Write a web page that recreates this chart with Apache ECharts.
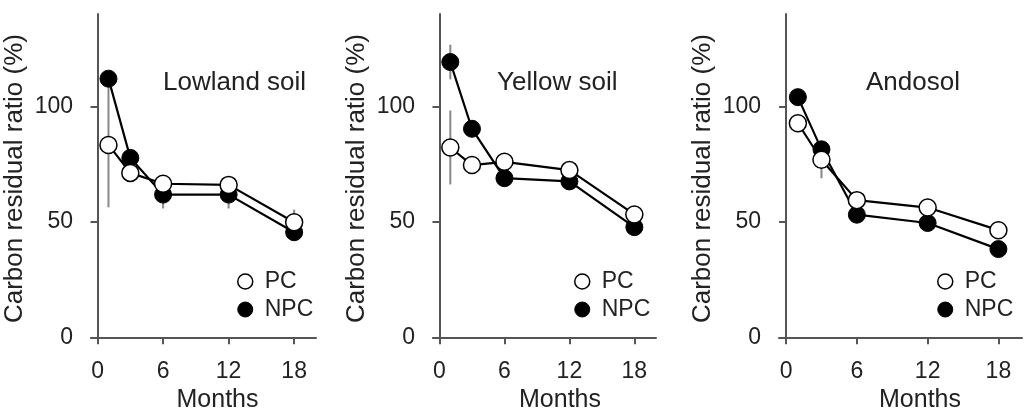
<!DOCTYPE html>
<html lang="en">
<head>
    <meta charset="UTF-8">
    <title>Carbon residual ratio</title>
    <style>
        html, body { margin: 0; padding: 0; background: #fff; }
        #main { width: 1032px; height: 418px; }
    </style>
</head>
<body>
<div id="main"></div>
<script src="https://cdn.jsdelivr.net/npm/echarts@6.0.0/dist/echarts.min.js"></script>
<script type="text/javascript">
    // data
    var months = [1, 3, 6, 12, 18];
    var soilNames = ['Lowland soil', 'Yellow soil', 'Andosol'];
    var xTicks = [0, 6, 12, 18];
    var yTicks = [0, 50, 100];

    var lowlandPC = [83.3, 71.2, 66.5, 66.0, 49.8];
    var lowlandNPC = [112.0, 77.7, 61.8, 61.8, 45.5];
    var yellowPC = [82.2, 74.6, 76.0, 72.4, 53.2];
    var yellowNPC = [119.2, 90.3, 68.9, 67.5, 47.7];
    var andosolPC = [92.7, 76.9, 59.4, 56.2, 46.4];
    var andosolNPC = [104.0, 81.4, 53.1, 49.5, 38.2];

    // error bar half widths (0 = not visible)
    var lowlandPCErr = [27, 0, 0, 0, 5.5];
    var lowlandNPCErr = [0, 0, 6, 6, 0];
    var yellowPCErr = [16, 0, 0, 0, 0];
    var yellowNPCErr = [7.5, 0, 0, 0, 3.5];
    var andosolPCErr = [0, 8, 0, 0, 0];
    var andosolNPCErr = [0, 0, 0, 0, 0];

    var pcData = [lowlandPC, yellowPC, andosolPC];
    var npcData = [lowlandNPC, yellowNPC, andosolNPC];
    var pcErr = [lowlandPCErr, yellowPCErr, andosolPCErr];
    var npcErr = [lowlandNPCErr, yellowNPCErr, andosolNPCErr];

    var font = "'Liberation Sans', Arial, sans-serif";
    var textColor = '#222';
    var axisColor = '#555';

    // panel layout
    var grids = [
        {left: 91, top: 14, width: 225, height: 332},
        {left: 433, top: 14, width: 223, height: 334},
        {left: 779, top: 14, width: 243, height: 335}
    ];
    var titlePos = [[163, 70], [497, 70], [866, 70]];
    var legendLeft = [232, 569, 932];
    var monthsPad = [28, 31, 39];

    var myChart = echarts.init(document.getElementById('main'));

    function pairs(vals) {
        var out = [];
        for (var i = 0; i < months.length; i++) out.push([months[i], vals[i]]);
        return out;
    }

    function errData(vals, errs) {
        var out = [];
        for (var i = 0; i < months.length; i++) {
            if (errs[i] > 0) out.push([months[i], vals[i] - errs[i], vals[i] + errs[i]]);
        }
        return out;
    }

    function renderErr(params, api) {
        var p1 = api.coord([api.value(0), api.value(1)]);
        var p2 = api.coord([api.value(0), api.value(2)]);
        return {
            type: 'line',
            shape: {x1: p1[0], y1: p1[1], x2: p2[0], y2: p2[1]},
            style: {stroke: '#888', lineWidth: 2}
        };
    }

    var title = [], xAxis = [], yAxis = [], legend = [], series = [];
    for (var k = 0; k < 3; k++) {
        title.push({
            text: soilNames[k], left: titlePos[k][0], top: titlePos[k][1], padding: 0,
            textStyle: {fontFamily: font, fontSize: 26, fontWeight: 'normal', color: textColor}
        });
        xAxis.push({
            type: 'value', gridIndex: k, min: -0.6, max: 20,
            name: 'Months', nameLocation: 'middle', nameGap: 42,
            nameTextStyle: {fontFamily: font, fontSize: 25, color: textColor, padding: [0, 0, 0, monthsPad[k]]},
            splitLine: {show: false},
            axisLine: {onZero: true, lineStyle: {color: axisColor, width: 2}},
            axisTick: {show: true, length: 7, customValues: xTicks, lineStyle: {color: axisColor, width: 2}},
            axisLabel: {customValues: xTicks, margin: 17, fontFamily: font, fontSize: 23, color: textColor}
        });
        yAxis.push({
            type: 'value', gridIndex: k, min: -2.5, max: 140,
            name: 'Carbon residual ratio (%)', nameLocation: 'middle', nameGap: 63,
            nameTextStyle: {fontFamily: font, fontSize: 26, color: textColor},
            splitLine: {show: false},
            axisLine: {show: true, onZero: true, lineStyle: {color: axisColor, width: 2}},
            axisTick: {show: true, length: 7, customValues: yTicks, lineStyle: {color: axisColor, width: 2}},
            axisLabel: {customValues: yTicks, margin: 18, fontFamily: font, fontSize: 23, color: textColor}
        });
        legend.push({
            orient: 'vertical', left: legendLeft[k], top: 265, itemGap: 5,
            itemWidth: 15, itemHeight: 15, icon: 'circle',
            textStyle: {fontFamily: font, fontSize: 23, color: textColor, padding: [0, 0, 0, 7]},
            data: [
                {name: 'PC', itemStyle: {color: '#fff', borderColor: '#000', borderWidth: 1.5}},
                {name: 'NPC', itemStyle: {color: '#000', borderColor: '#000', borderWidth: 1}}
            ]
        });
        series.push({
            name: 'err' + k + 'a', type: 'custom', xAxisIndex: k, yAxisIndex: k, z: 1,
            renderItem: renderErr, data: errData(pcData[k], pcErr[k]), silent: true
        });
        series.push({
            name: 'err' + k + 'b', type: 'custom', xAxisIndex: k, yAxisIndex: k, z: 1,
            renderItem: renderErr, data: errData(npcData[k], npcErr[k]), silent: true
        });
        series.push({
            name: 'NPC', type: 'line', xAxisIndex: k, yAxisIndex: k, z: 3,
            symbol: 'circle', symbolSize: 17, showSymbol: true,
            lineStyle: {color: '#000', width: 2.2},
            itemStyle: {color: '#000', borderColor: '#000', borderWidth: 1},
            data: pairs(npcData[k])
        });
        series.push({
            name: 'PC', type: 'line', xAxisIndex: k, yAxisIndex: k, z: 4,
            symbol: 'circle', symbolSize: 17, showSymbol: true,
            lineStyle: {color: '#000', width: 2.2},
            itemStyle: {color: '#fff', borderColor: '#000', borderWidth: 1.5},
            data: pairs(pcData[k])
        });
    }

    myChart.setOption({
        animation: false,
        title: title,
        grid: grids,
        xAxis: xAxis,
        yAxis: yAxis,
        legend: legend,
        series: series
    });
    window.addEventListener("resize", function () {
        myChart.resize();
    });
</script>
</body>
</html>
